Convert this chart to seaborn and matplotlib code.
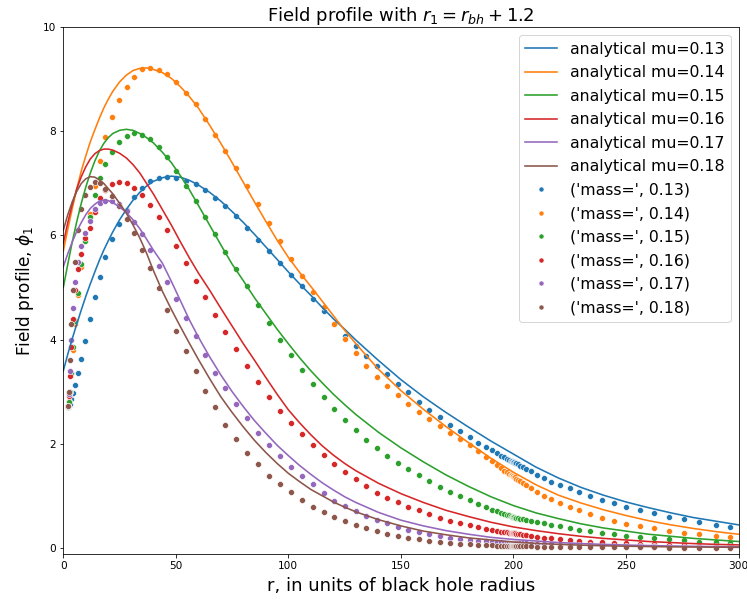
import matplotlib
matplotlib.use("Agg")
import matplotlib.pyplot as plt
import seaborn as sns
from matplotlib.lines import Line2D

masses = [0.13, 0.14, 0.15, 0.16, 0.17, 0.18]
colors = ["#1f77b4", "#ff7f0e", "#2ca02c", "#d62728", "#9467bd", "#8c564b"]

# ---------------- analytical curves ----------------
r_line = [0, 2, 4, 6, 8, 10, 12, 14, 16, 18,
          20, 22, 25, 28, 31, 34, 37, 40, 44, 48,
          52, 56, 60, 65, 70, 75, 80, 85, 90, 95,
          100, 105, 110, 115, 120, 125, 130, 140, 150, 160,
          170, 180, 190, 200, 210, 220, 230, 240, 250, 260,
          270, 280, 290, 300]

line_013 = [3.40, 3.72, 4.02, 4.30, 4.57, 4.83, 5.07, 5.30, 5.52, 5.72,
            5.90, 6.07, 6.30, 6.50, 6.68, 6.83, 6.95, 7.04, 7.11, 7.14,
            7.12, 7.06, 6.97, 6.83, 6.66, 6.46, 6.25, 6.02, 5.78, 5.54,
            5.30, 5.07, 4.85, 4.62, 4.40, 4.20, 3.99, 3.60, 3.23, 2.90,
            2.60, 2.32, 2.05, 1.80, 1.55, 1.34, 1.16, 1.01, 0.88, 0.77,
            0.67, 0.58, 0.51, 0.44]
line_014 = [5.70, 6.12, 6.52, 6.90, 7.24, 7.53, 7.80, 8.03, 8.25, 8.45,
            8.62, 8.77, 8.95, 9.08, 9.17, 9.21, 9.22, 9.19, 9.13, 9.02,
            8.86, 8.67, 8.45, 8.12, 7.77, 7.40, 7.02, 6.64, 6.27, 5.91,
            5.58, 5.29, 5.02, 4.74, 4.46, 4.18, 3.92, 3.43, 3.02, 2.66,
            2.33, 2.02, 1.72, 1.45, 1.21, 1.01, 0.86, 0.73, 0.62, 0.52,
            0.44, 0.37, 0.31, 0.26]
line_015 = [5.00, 5.45, 5.88, 6.27, 6.62, 6.93, 7.20, 7.43, 7.62, 7.77,
            7.88, 7.96, 8.02, 8.04, 8.02, 7.96, 7.88, 7.78, 7.60, 7.40,
            7.15, 6.88, 6.58, 6.20, 5.82, 5.45, 5.13, 4.80, 4.50, 4.20,
            3.92, 3.65, 3.40, 3.17, 2.95, 2.75, 2.56, 2.22, 1.92, 1.65,
            1.40, 1.18, 0.98, 0.81, 0.67, 0.56, 0.46, 0.38, 0.32, 0.26,
            0.22, 0.18, 0.15, 0.12]
line_016 = [5.85, 6.25, 6.60, 6.90, 7.13, 7.32, 7.47, 7.57, 7.63, 7.66,
            7.66, 7.64, 7.58, 7.49, 7.36, 7.20, 7.00, 6.80, 6.50, 6.20,
            5.88, 5.57, 5.28, 4.95, 4.60, 4.26, 3.92, 3.60, 3.27, 2.95,
            2.65, 2.40, 2.17, 1.96, 1.78, 1.62, 1.48, 1.24, 1.04, 0.87,
            0.72, 0.60, 0.49, 0.40, 0.33, 0.27, 0.22, 0.18, 0.15, 0.12,
            0.10, 0.08, 0.065, 0.055]
line_017 = [5.40, 5.65, 5.88, 6.08, 6.25, 6.40, 6.52, 6.60, 6.66, 6.68,
            6.67, 6.63, 6.55, 6.44, 6.30, 6.13, 5.93, 5.72, 5.47, 5.12,
            4.75, 4.38, 4.05, 3.67, 3.32, 3.00, 2.71, 2.44, 2.20, 1.97,
            1.77, 1.58, 1.41, 1.25, 1.11, 0.98, 0.87, 0.68, 0.53, 0.42,
            0.33, 0.26, 0.20, 0.16, 0.13, 0.10, 0.08, 0.065, 0.052, 0.042,
            0.034, 0.027, 0.022, 0.018]
line_018 = [6.10, 6.40, 6.65, 6.85, 7.00, 7.09, 7.13, 7.12, 7.07, 7.00,
            6.90, 6.80, 6.62, 6.43, 6.20, 5.95, 5.66, 5.33, 4.93, 4.58,
            4.25, 3.93, 3.62, 3.25, 2.90, 2.60, 2.32, 2.06, 1.83, 1.62,
            1.43, 1.27, 1.12, 1.00, 0.88, 0.78, 0.69, 0.54, 0.42, 0.32,
            0.25, 0.19, 0.15, 0.11, 0.085, 0.065, 0.05, 0.038, 0.03, 0.023,
            0.018, 0.014, 0.011, 0.008]

# ---------------- numerical points ----------------
r_dots = [2.2, 2.4, 2.8, 3.4, 4.2, 5.2, 6.5, 8.0, 9.8, 11.7,
          13.9, 16.2, 18.7, 21.6, 24.8, 28.1, 31.4, 34.9, 38.7, 42.4,
          46.2, 50.2, 54.5, 58.8, 63.1, 67.6, 72.0, 76.8, 81.6, 86.5,
          91.4, 96.3, 101.2, 106.1, 110.9, 115.7, 120.4, 125.2, 129.9, 134.4,
          139.2, 143.9, 148.6, 153.2, 157.9, 162.4, 167.3, 172.0, 176.4, 180.6,
          184.4, 187.8, 190.6, 192.8, 194.6, 196.0, 197.1, 198.0, 198.7, 199.2,
          199.6, 199.9,
          200.1, 200.5, 201.1, 201.9, 202.9, 204.1, 205.6, 207.6,
          210.5, 213.5, 216.7, 220.6, 225.0, 229.2, 234.2, 239.4, 244.6, 250.1,
          256.4, 262.4, 269.0, 275.7, 282.4, 289.8, 296.4]

dots_013 = [2.70, 2.72, 2.76, 2.85, 2.98, 3.13, 3.35, 3.63, 3.98, 4.39,
            4.81, 5.20, 5.58, 5.94, 6.23, 6.49, 6.73, 6.92, 7.04, 7.10,
            7.13, 7.10, 7.04, 6.98, 6.87, 6.72, 6.56, 6.37, 6.14, 5.92,
            5.70, 5.48, 5.25, 5.03, 4.77, 4.54, 4.30, 4.06, 3.87, 3.69,
            3.50, 3.33, 3.15, 2.99, 2.81, 2.65, 2.51, 2.36, 2.24, 2.12,
            2.02, 1.94, 1.87, 1.82, 1.77, 1.74, 1.71, 1.69, 1.67, 1.66,
            1.65, 1.65,
            1.64, 1.63, 1.62, 1.60, 1.58, 1.55, 1.51, 1.47,
            1.40, 1.34, 1.27, 1.21, 1.14, 1.07, 1.00, 0.92, 0.86, 0.79,
            0.72, 0.66, 0.60, 0.55, 0.50, 0.44, 0.40]
dots_014 = [2.72, 2.82, 3.00, 3.35, 3.80, 4.30, 4.85, 5.40, 5.90, 6.42,
            6.95, 7.43, 7.89, 8.28, 8.60, 8.86, 9.05, 9.19, 9.22, 9.18,
            9.11, 8.94, 8.74, 8.52, 8.24, 7.94, 7.62, 7.29, 6.95, 6.60,
            6.24, 5.89, 5.55, 5.22, 4.92, 4.62, 4.30, 4.02, 3.75, 3.50,
            3.28, 3.10, 2.93, 2.77, 2.61, 2.47, 2.33, 2.20, 2.09, 1.98,
            1.86, 1.75, 1.66, 1.59, 1.53, 1.48, 1.45, 1.42, 1.40, 1.39,
            1.38, 1.37,
            1.36, 1.35, 1.33, 1.31, 1.28, 1.24, 1.20, 1.14,
            1.07, 1.00, 0.93, 0.86, 0.79, 0.72, 0.65, 0.58, 0.52, 0.46,
            0.41, 0.37, 0.33, 0.29, 0.26, 0.23, 0.21]
dots_015 = [2.70, 2.80, 3.00, 3.35, 3.85, 4.35, 4.90, 5.45, 5.90, 6.35,
            6.78, 7.10, 7.38, 7.60, 7.79, 7.91, 7.96, 7.94, 7.85, 7.70,
            7.50, 7.23, 6.96, 6.67, 6.36, 6.03, 5.68, 5.35, 5.02, 4.66,
            4.32, 4.00, 3.71, 3.42, 3.15, 2.90, 2.67, 2.45, 2.26, 2.08,
            1.91, 1.76, 1.63, 1.51, 1.39, 1.28, 1.17, 1.08, 0.99, 0.91,
            0.84, 0.78, 0.73, 0.70, 0.67, 0.65, 0.63, 0.62, 0.61, 0.60,
            0.60, 0.59,
            0.59, 0.58, 0.58, 0.57, 0.56, 0.55, 0.54, 0.52,
            0.49, 0.47, 0.44, 0.41, 0.38, 0.35, 0.32, 0.28, 0.26, 0.23,
            0.20, 0.18, 0.16, 0.14, 0.12, 0.11, 0.09]
dots_016 = [2.72, 2.92, 3.30, 3.85, 4.40, 4.95, 5.35, 5.65, 5.95, 6.15,
            6.45, 6.72, 6.88, 6.98, 7.02, 7.00, 6.92, 6.77, 6.58, 6.36,
            6.10, 5.80, 5.47, 5.12, 4.82, 4.48, 4.14, 3.81, 3.49, 3.18,
            2.90, 2.63, 2.40, 2.18, 1.98, 1.79, 1.61, 1.46, 1.32, 1.18,
            1.05, 0.95, 0.87, 0.79, 0.72, 0.64, 0.58, 0.52, 0.47, 0.43,
            0.39, 0.36, 0.34, 0.32, 0.31, 0.30, 0.295, 0.29, 0.285, 0.28,
            0.28, 0.28,
            0.28, 0.275, 0.27, 0.265, 0.26, 0.25, 0.24, 0.23,
            0.21, 0.195, 0.18, 0.165, 0.15, 0.135, 0.12, 0.105, 0.095, 0.085,
            0.075, 0.065, 0.055, 0.048, 0.042, 0.036, 0.031]
dots_017 = [2.72, 2.95, 3.40, 4.00, 4.60, 5.10, 5.50, 5.80, 6.05, 6.28,
            6.50, 6.63, 6.67, 6.67, 6.60, 6.47, 6.26, 6.03, 5.73, 5.42,
            5.10, 4.77, 4.42, 4.06, 3.71, 3.36, 3.07, 2.77, 2.49, 2.21,
            1.97, 1.76, 1.55, 1.38, 1.22, 1.05, 0.90, 0.80, 0.70, 0.61,
            0.54, 0.47, 0.40, 0.35, 0.30, 0.26, 0.22, 0.19, 0.17, 0.15,
            0.135, 0.125, 0.115, 0.11, 0.105, 0.10, 0.10, 0.098, 0.097, 0.096,
            0.095, 0.095,
            0.094, 0.093, 0.092, 0.090, 0.088, 0.086, 0.083, 0.080,
            0.075, 0.070, 0.065, 0.060, 0.055, 0.050, 0.045, 0.040, 0.036, 0.032,
            0.028, 0.025, 0.022, 0.019, 0.017, 0.015, 0.013]
dots_018 = [2.72, 3.00, 3.60, 4.30, 4.95, 5.50, 6.10, 6.50, 6.78, 6.94,
            7.02, 7.00, 6.90, 6.75, 6.57, 6.32, 6.05, 5.73, 5.38, 5.00,
            4.56, 4.16, 3.78, 3.40, 3.02, 2.70, 2.36, 2.09, 1.83, 1.60,
            1.38, 1.23, 1.07, 0.91, 0.78, 0.68, 0.59, 0.51, 0.43, 0.38,
            0.32, 0.27, 0.23, 0.19, 0.16, 0.13, 0.11, 0.09, 0.075, 0.065,
            0.055, 0.050, 0.045, 0.042, 0.040, 0.038, 0.036, 0.035, 0.034, 0.033,
            0.033, 0.032,
            0.032, 0.031, 0.030, 0.030, 0.029, 0.028, 0.027, 0.025,
            0.023, 0.021, 0.019, 0.017, 0.015, 0.013, 0.011, 0.010, 0.008, 0.007,
            0.006, 0.005, 0.004, 0.003, 0.003, 0.002, 0.002]

lines = [line_013, line_014, line_015, line_016, line_017, line_018]
dots = [dots_013, dots_014, dots_015, dots_016, dots_017, dots_018]

xticks = [0, 50, 100, 150, 200, 250, 300]
yticks = [0, 2, 4, 6, 8, 10]

W, H, DPI = 747, 603, 72
fig = plt.figure(figsize=(W / DPI, H / DPI), dpi=DPI)
left, right, top, bottom = 63.3, 738.5, 27.3, 554.0
ax = fig.add_axes([left / W, 1 - bottom / H, (right - left) / W, (bottom - top) / H])

for c, y in zip(colors, lines):
    sns.lineplot(x=r_line, y=y, color=c, linewidth=1.6, ax=ax,
                 estimator=None, sort=False, legend=False)
for c, y in zip(colors, dots):
    sns.scatterplot(x=r_dots, y=y, color=c, s=36, edgecolor="white",
                    linewidth=0.6, ax=ax, legend=False)

ax.set_xlim(0, 300)
ax.set_ylim(-0.12, 10)
ax.set_xticks(xticks)
ax.set_yticks(yticks)
ax.tick_params(labelsize=10.5)

ax.set_title(r"Field profile with $r_1 = r_{bh} + 1.2$", fontsize=18, pad=4)
ax.set_xlabel("r, in units of black hole radius", fontsize=18, labelpad=6)
ax.set_ylabel(r"Field profile, $\phi_1$", fontsize=17, labelpad=7)

handles = [Line2D([0], [0], color=c, lw=1.6) for c in colors]
handles += [Line2D([0], [0], marker="o", ls="none", markerfacecolor=c,
                   markeredgecolor="white", markeredgewidth=0.5, markersize=5)
            for c in colors]
labels = [f"analytical mu={m}" for m in masses]
labels += [str(("mass=", m)) for m in masses]
ax.legend(handles, labels, loc="upper right", fontsize=15.8, labelspacing=0.54)

fig.savefig("out.png", dpi=DPI)
